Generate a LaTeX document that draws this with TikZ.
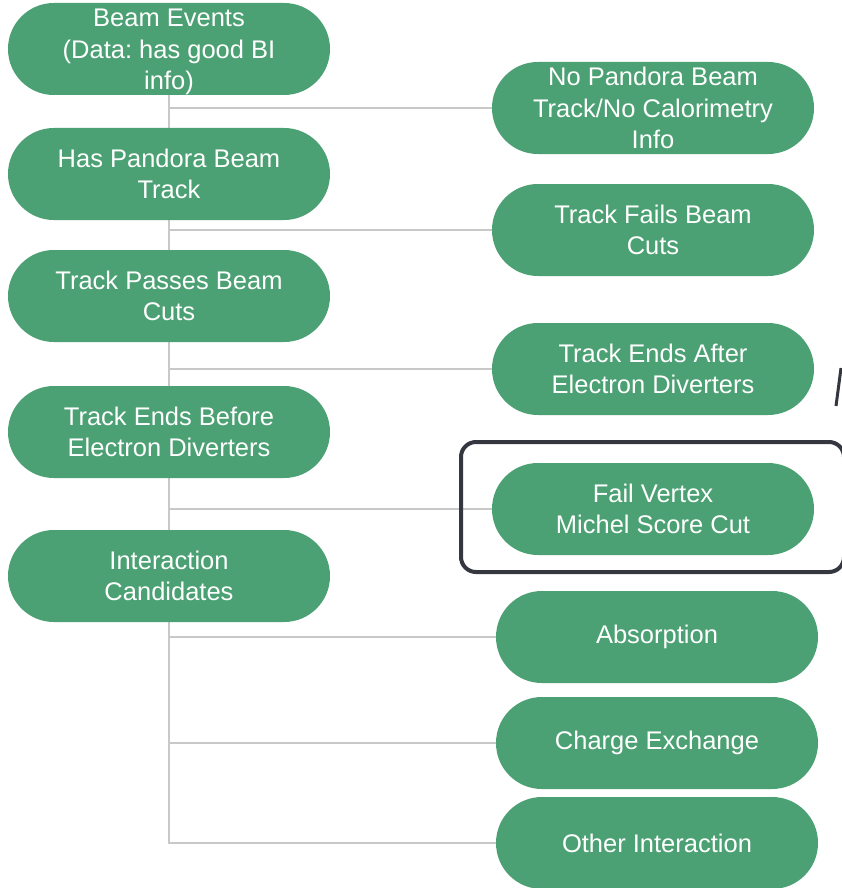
\documentclass[tikz,border=0pt]{standalone}
\usepackage{fontspec}
\setmainfont{Liberation Sans}
\frenchspacing
\usetikzlibrary{backgrounds}
\definecolor{pillgreen}{RGB}{75,161,115}
\definecolor{conngray}{RGB}{200,200,200}
\definecolor{boxdark}{RGB}{52,54,64}
\tikzset{
  pill/.style={fill=pillgreen, draw=none, rounded corners=45.9pt,
    minimum width=322pt, minimum height=92pt, inner sep=0pt,
    text=white, align=center, font=\fontsize{25.5}{31.5}\selectfont},
  conn/.style={draw=conngray, line width=2pt},
  hilite/.style={draw=boxdark, line width=4pt, rounded corners=15pt}
}
\newcommand{\lift}[1]{\raisebox{-2pt}{#1}}
\newcommand{\liftlines}[1]{\raisebox{-9pt}[0pt][0pt]{\begin{tabular}{@{}c@{}}#1\end{tabular}}}
\begin{document}
\begin{tikzpicture}[x=1pt,y=-1pt]
\useasboundingbox (0,0) rectangle (842,888);
% left column
\node[pill] (be) at (169,49) {\liftlines{Beam Events\\(Data: has good BI\\info)}};
\node[pill] (hp) at (169,174) {Has Pandora Beam\\Track};
\node[pill] (tp) at (169,296) {Track Passes Beam\\Cuts};
\node[pill] (teb) at (169,432) {Track Ends Before\\Electron Diverters};
\node[pill] (ic) at (169,576) {Interaction\\Candidates};
% right column
\node[pill] (np) at (653,108) {No Pandora Beam\\Track/No Calorimetry\\Info};
\node[pill] (tf) at (653,230) {Track Fails Beam\\Cuts};
\node[pill] (tea) at (653,369) {Track Ends After\\Electron Diverters};
\node[pill] (fv) at (653,509) {Fail Vertex\\Michel Score Cut};
\node[pill] (ab) at (657,637) {\lift{Absorption}};
\node[pill] (ce) at (657,743) {\lift{Charge Exchange}};
\node[pill] (oi) at (657,843) {\lift{Other Interaction}};
% highlight box
\draw[hilite] (461,442) rectangle (844,572);
% cut-off fragment at right edge
\draw[boxdark, line width=3pt] (836,406) -- (841,368);
% connectors
\begin{scope}[on background layer]
\draw[conn] (be.south) |- (np.west);
\draw[conn] (be.south) |- (tf.west);
\draw[conn] (be.south) |- (tea.west);
\draw[conn] (be.south) |- (fv.west);
\draw[conn] (be.south) |- (ab.west);
\draw[conn] (be.south) |- (ce.west);
\draw[conn] (be.south) |- (oi.west);
\end{scope}
\end{tikzpicture}
\end{document}
